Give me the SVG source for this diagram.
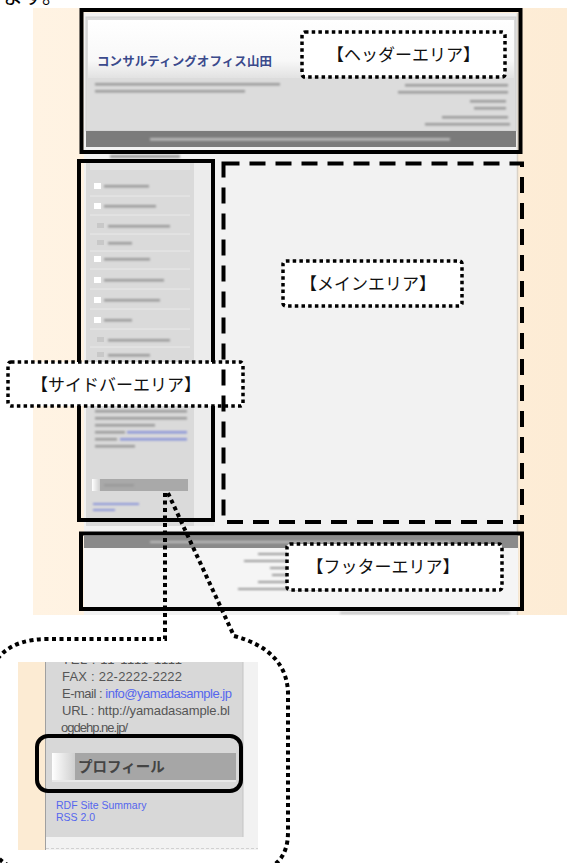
<svg xmlns="http://www.w3.org/2000/svg" width="567" height="863" viewBox="0 0 567 863">
<style>
.jp{font-family:"Noto Sans CJK JP","Noto Sans",sans-serif;}
.lbl{font-family:"Noto Sans CJK JP",sans-serif;font-size:17px;fill:#111;text-anchor:middle;}
.area{fill:none;stroke:#000;stroke-width:4;}
.dotbox{fill:#fff;stroke:#000;stroke-width:3.5;stroke-dasharray:3.5 3.2;}
.dash{fill:none;stroke:#000;stroke-width:4;stroke-dasharray:16 10;}
.call{fill:none;stroke:#000;stroke-width:4;stroke-dasharray:4 3.5;}
.bl{fill:#9a9a9a;filter:url(#blur);}
.bll{fill:#bdbdbd;filter:url(#blur);}
.blb{fill:#8c95d8;filter:url(#blur);}
.ins{font-family:"Liberation Sans",Arial,sans-serif;font-size:13px;fill:#555;}
.lnk{fill:#5566ee;}
</style>
<defs>
<filter id="blur" x="-20%" y="-100%" width="140%" height="300%"><feGaussianBlur stdDeviation="0.9"/></filter>
<linearGradient id="beige" x1="0" x2="1" y1="0" y2="0">
<stop offset="0" stop-color="#fff3e3"/><stop offset="1" stop-color="#fdecd5"/>
</linearGradient>
<linearGradient id="hdr" x1="0" x2="0" y1="0" y2="1">
<stop offset="0" stop-color="#ffffff"/><stop offset="0.7" stop-color="#f8f8f8"/><stop offset="1" stop-color="#e2e2e2"/>
</linearGradient>
<linearGradient id="stripe" x1="0" x2="1" y1="0" y2="0">
<stop offset="0" stop-color="#ffffff"/><stop offset="1" stop-color="#cfcfcf"/>
</linearGradient>
<clipPath id="insClip"><rect x="18" y="662" width="240" height="188"/></clipPath>
</defs>

<!-- cut-off text at top -->
<text x="2" y="3" class="jp" font-size="21" fill="#000">ます。</text>

<!-- background screenshot -->
<g id="screenshot">
<rect x="33" y="8" width="534" height="607" fill="url(#beige)"/>
<rect x="84" y="13" width="434" height="602" fill="#f2f2f2"/>
<line x1="517.5" y1="13" x2="517.5" y2="615" stroke="#d9d2c8" stroke-width="1.5"/>
<!-- header -->
<rect x="86" y="17" width="430" height="114" fill="#dcdcdc" stroke="#cfcfcf"/>
<rect x="88" y="20" width="426" height="58" fill="url(#hdr)"/>
<text x="97" y="66" class="jp" font-size="12.5" font-weight="bold" fill="#3b4a8c" textLength="175">コンサルティングオフィス山田</text>
<rect class="bl" x="95" y="83" width="185" height="2.5"/>
<rect class="bl" x="95" y="90" width="150" height="2.5"/>
<rect class="bl" x="405" y="84" width="103" height="2.5"/>
<rect class="bl" x="398" y="91" width="110" height="2.5"/>
<rect class="bl" x="470" y="100" width="36" height="2.5"/>
<rect class="bl" x="474" y="107" width="32" height="2.5"/>
<rect class="bl" x="442" y="116" width="66" height="2.5"/>
<rect class="bl" x="425" y="123" width="85" height="2.5"/>
<rect x="86" y="131" width="430" height="16" fill="#7b7b7b"/>
<rect class="bll" x="150" y="138" width="300" height="2.5"/>
<!-- breadcrumb -->
<rect class="bl" x="110" y="155" width="70" height="3"/>
<!-- sidebar -->
<rect x="86" y="160" width="108" height="366" fill="#dadada"/>
<rect x="194" y="160" width="20" height="366" fill="#ececec"/>
<rect x="90" y="162" width="100" height="8" fill="#e6e6e6"/>
<g>
<rect x="94" y="183" width="7" height="6" fill="#fff"/><rect class="bl" x="104" y="185" width="45" height="2.5"/>
<rect x="94" y="203" width="7" height="6" fill="#fff"/><rect class="bl" x="104" y="205" width="52" height="2.5"/>
<rect x="97" y="223" width="7" height="5" fill="#c8c8c8"/><rect class="bl" x="108" y="225" width="62" height="2.5"/>
<rect x="97" y="240" width="7" height="5" fill="#c8c8c8"/><rect class="bl" x="108" y="242" width="24" height="2.5"/>
<rect x="94" y="256" width="7" height="6" fill="#fff"/><rect class="bl" x="104" y="258" width="46" height="2.5"/>
<rect x="94" y="277" width="7" height="6" fill="#fff"/><rect class="bl" x="104" y="279" width="60" height="2.5"/>
<rect x="94" y="297" width="7" height="6" fill="#fff"/><rect class="bl" x="104" y="299" width="56" height="2.5"/>
<rect x="94" y="317" width="7" height="6" fill="#fff"/><rect class="bl" x="104" y="319" width="28" height="2.5"/>
<rect x="97" y="337" width="7" height="5" fill="#c8c8c8"/><rect class="bl" x="108" y="339" width="62" height="2.5"/>
<rect x="97" y="352" width="7" height="5" fill="#c8c8c8"/><rect class="bl" x="108" y="354" width="42" height="2.5"/>
<g stroke="#e9e9e9" stroke-width="1">
<line x1="90" y1="196" x2="190" y2="196"/><line x1="90" y1="215" x2="190" y2="215"/><line x1="90" y1="234" x2="190" y2="234"/>
<line x1="90" y1="251" x2="190" y2="251"/><line x1="90" y1="269" x2="190" y2="269"/><line x1="90" y1="289" x2="190" y2="289"/>
<line x1="90" y1="309" x2="190" y2="309"/><line x1="90" y1="329" x2="190" y2="329"/><line x1="90" y1="347" x2="190" y2="347"/>
</g>
</g>
<rect class="bl" x="95" y="410" width="92" height="2.5"/>
<rect class="bl" x="95" y="417" width="92" height="2.5"/>
<rect class="bl" x="95" y="424" width="60" height="2.5"/>
<rect class="bl" x="95" y="431" width="30" height="2.5"/><rect class="blb" x="127" y="431" width="60" height="2.5"/>
<rect class="bl" x="95" y="438" width="22" height="2.5"/><rect class="blb" x="120" y="438" width="67" height="2.5"/>
<rect class="bl" x="95" y="445" width="40" height="2.5"/>
<rect x="92" y="479" width="8" height="12" fill="url(#stripe)"/>
<rect x="100" y="479" width="88" height="12" fill="#a9a9a9"/>
<rect class="bl" x="104" y="484" width="30" height="2.5"/>
<rect class="blb" x="93" y="503" width="46" height="2"/>
<rect class="blb" x="93" y="509" width="22" height="2"/>
<!-- footer -->
<rect x="84" y="536" width="434" height="12" fill="#8a8a8a"/>
<rect class="bll" x="150" y="541" width="300" height="2"/>
<rect x="84" y="548" width="434" height="60" fill="#f5f5f5"/>
<rect class="bl" x="258" y="553" width="32" height="2"/>
<rect class="bl" x="244" y="560" width="46" height="2"/>
<rect class="bl" x="270" y="567" width="20" height="2"/>
<rect class="bl" x="272" y="574" width="18" height="2"/>
<rect class="bl" x="258" y="581" width="32" height="2"/><rect class="blb" x="290" y="581" width="10" height="2"/>
<rect class="bl" x="238" y="588" width="90" height="2"/>
<rect class="bll" x="340" y="612" width="170" height="2"/>
</g>

<!-- callout connector -->
<g id="connectors">
<path class="call" d="M165,493 V639 H48 Q-14,639 -14,700 V820 Q-14,872 40,872"/>
<path class="call" d="M168,493 L234,636 Q286,650 288,692 V832 Q288,870 250,872"/>
</g>

<!-- inset screenshot -->
<g id="inset">
<g clip-path="url(#insClip)">
<rect x="18" y="662" width="240" height="188" fill="#f2f2f2"/>
<rect x="18" y="662" width="27" height="188" fill="#fcebd3"/>
<rect x="45" y="662" width="198" height="175" fill="#d8d8d8"/>
<line x1="45.5" y1="662" x2="45.5" y2="850" stroke="#a0a0a0" stroke-width="1"/>
<line x1="243" y1="662" x2="243" y2="837" stroke="#c4c4c4" stroke-width="1"/>
<line x1="46" y1="848.5" x2="258" y2="848.5" stroke="#c8c8c8" stroke-width="0.8" stroke-dasharray="3 2"/>
<text x="62" y="664" class="ins" textLength="120">TEL : 11-1111-1111</text>
</g>
<text x="62" y="681" class="ins" textLength="120">FAX : 22-2222-2222</text>
<text x="62" y="698" class="ins" textLength="170">E-mail : <tspan class="lnk">info@yamadasample.jp</tspan></text>
<text x="62" y="715" class="ins" textLength="168">URL : http://yamadasample.bl</text>
<text x="61" y="732" class="ins" textLength="67">ogdehp.ne.jp/</text>
<rect x="52" y="753" width="23" height="27" fill="url(#stripe)"/>
<rect x="75" y="753" width="161" height="27" fill="#a6a6a6"/>
<line x1="52" y1="781" x2="236" y2="781" stroke="#eeeeee" stroke-width="1.5"/>
<text x="78" y="772" class="jp" font-size="14.5" font-weight="bold" fill="#444">プロフィール</text>
<rect x="37" y="736" width="204" height="55" rx="11" fill="none" stroke="#000" stroke-width="4"/>
<text x="56" y="809" font-family="'Liberation Sans',Arial,sans-serif" font-size="10.5" fill="#5566ee">RDF Site Summary</text>
<text x="56" y="821" font-family="'Liberation Sans',Arial,sans-serif" font-size="10.5" fill="#5566ee">RSS 2.0</text>
</g>

<!-- area boxes -->
<g id="header-area">
<rect class="area" x="81.5" y="10" width="439" height="142"/>
<rect class="dotbox" x="302" y="32" width="203" height="45" rx="3"/>
<text class="lbl" x="403.5" y="61" font-size="18.5">【ヘッダーエリア】</text>
</g>
<g id="sidebar-area">
<rect class="area" x="79" y="161" width="134" height="359"/>
<rect class="dotbox" x="8" y="362" width="235" height="44" rx="3"/>
<text class="lbl" x="116" y="391">【サイドバーエリア】</text>
</g>
<g id="main-area">
<rect class="dash" x="223.5" y="163.5" width="298.5" height="358.5"/>
<rect class="dotbox" x="283" y="261" width="179" height="45" rx="3"/>
<text class="lbl" x="368" y="290">【メインエリア】</text>
</g>
<g id="footer-area">
<rect class="area" x="81" y="533.5" width="441" height="75.5"/>
<rect class="dotbox" x="287" y="544" width="215" height="46" rx="3"/>
<text class="lbl" x="383" y="573">【フッターエリア】</text>
</g>
</svg>
